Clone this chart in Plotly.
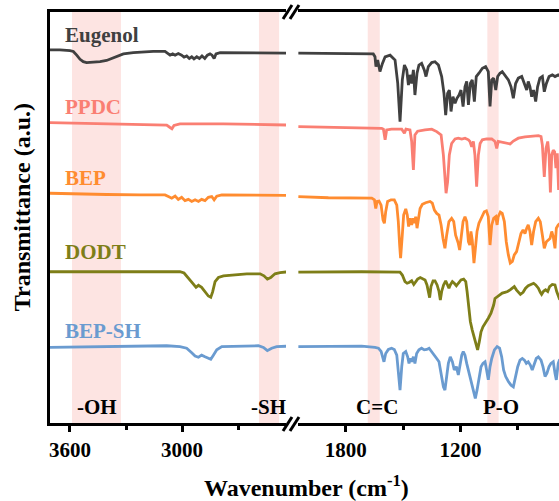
import plotly.graph_objects as go

# ---------------- data (wavenumber in cm-1, transmittance in a.u. incl. vertical offset) -------------
series_names = ["Eugenol", "PPDC", "BEP", "DODT", "BEP-SH"]
series_colors = ["#404040", "#FA7F73", "#FF8C30", "#7E7E18", "#6A9BD0"]

# high-wavenumber window (left panel)
eugenol_hi_wn = [3708, 3654, 3600, 3582, 3564, 3546, 3529, 3511, 3475, 3439, 3404, 3377, 3350, 3314, 3261, 3207, 3154, 3091,
                 3073, 3064, 3050, 3037, 3020, 3002, 2989, 2975, 2961, 2948, 2936, 2921, 2907, 2893, 2878, 2864, 2850,
                 2839, 2828, 2818, 2796, 2725, 2600, 2430]
eugenol_hi_t = [90.8, 90.8, 90.6, 90.4, 89.5, 88.5, 87.9, 87.7, 87.8, 87.9, 88.2, 88.7, 89.3, 89.8, 90.1, 90.3, 90.4, 90.4,
                89.9, 89.5, 89.8, 89.5, 89.9, 89.5, 89.0, 89.3, 88.7, 89.1, 88.6, 89.1, 88.7, 89.3, 88.7, 89.5, 89.8,
                89.5, 88.7, 89.8, 90.1, 90.1, 90.1, 90.0]
ppdc_hi_wn = [3708, 3493, 3225, 3082, 3064, 3054, 3043, 3011, 2778, 2600, 2430]
ppdc_hi_t = [73.1, 72.9, 72.8, 72.5, 71.9, 71.6, 72.4, 72.8, 72.8, 72.6, 72.5]
bep_hi_wn = [3708, 3582, 3404, 3225, 3091, 3073, 3055, 3037, 3020, 3002, 2984, 2966, 2948, 2930, 2912, 2895, 2877, 2859,
             2841, 2828, 2814, 2787, 2600, 2430]
bep_hi_t = [55.9, 55.7, 55.6, 55.5, 55.5, 55.1, 54.7, 55.2, 54.4, 54.9, 54.1, 54.4, 53.9, 54.3, 53.9, 54.4, 54.1, 54.9,
            55.1, 54.3, 55.2, 55.5, 55.4, 55.4]
dodt_hi_wn = [3708, 3404, 3225, 3011, 2989, 2975, 2957, 2939, 2925, 2912, 2895, 2877, 2859, 2846, 2836, 2823, 2805, 2778,
              2725, 2653, 2582, 2561, 2543, 2525, 2502, 2475, 2430]
dodt_hi_t = [36.8, 36.8, 36.9, 36.8, 36.5, 35.8, 34.8, 33.8, 33.0, 33.5, 33.0, 31.9, 30.9, 30.6, 31.9, 34.4, 35.4, 35.8,
             36.0, 36.3, 36.3, 35.8, 35.0, 35.4, 36.3, 36.6, 36.8]
bepsh_hi_wn = [3708, 3404, 3225, 3082, 3011, 2975, 2948, 2930, 2912, 2895, 2877, 2859, 2846, 2832, 2814, 2787, 2725, 2653,
               2591, 2564, 2543, 2520, 2493, 2430]
bepsh_hi_t = [18.4, 18.6, 18.7, 18.8, 18.6, 18.2, 17.1, 16.3, 16.0, 16.5, 16.1, 15.7, 15.5, 16.5, 17.8, 18.6, 18.7, 18.8,
              18.8, 18.4, 17.6, 18.2, 18.6, 18.7]

# fingerprint window (right panel)
eugenol_lo_wn = [2048, 1656, 1647, 1642, 1633, 1621, 1608, 1594, 1568, 1542, 1528, 1516, 1504, 1493, 1481, 1472, 1464, 1455,
                 1446, 1438, 1427, 1417, 1403, 1389, 1380, 1368, 1350, 1333, 1315, 1298, 1286, 1277, 1267, 1258, 1249,
                 1239, 1228, 1218, 1207, 1197, 1186, 1176, 1167, 1158, 1148, 1138, 1127, 1117, 1103, 1085, 1068, 1054,
                 1045, 1036, 1026, 1015, 1005, 993, 981, 967, 949, 935, 923, 911, 897, 879, 865, 853, 845, 836, 827, 817,
                 806, 796, 784, 771, 761, 750, 736, 719, 705, 688, 680]
eugenol_lo_t = [90.0, 89.8, 89.1, 86.7, 88.3, 85.5, 87.5, 89.1, 89.5, 88.3, 82.7, 73.3, 83.5, 87.1, 85.9, 82.2, 84.7, 82.6,
                85.9, 79.8, 85.1, 87.1, 87.5, 85.9, 84.3, 86.7, 87.7, 87.9, 87.1, 84.3, 80.2, 74.9, 80.2, 81.0, 75.8,
                79.4, 77.8, 79.0, 79.8, 81.0, 77.0, 81.8, 83.1, 77.4, 82.6, 83.5, 78.2, 84.3, 85.1, 86.3, 86.7, 85.5,
                77.0, 83.5, 83.9, 81.0, 84.3, 85.1, 85.5, 84.7, 83.5, 81.8, 79.0, 82.6, 83.9, 84.3, 82.6, 81.0, 83.1,
                81.8, 79.4, 81.0, 78.2, 81.8, 83.9, 84.3, 80.6, 82.6, 84.3, 84.7, 84.3, 84.7, 84.5]
ppdc_lo_wn = [2048, 1891, 1717, 1612, 1603, 1594, 1586, 1560, 1507, 1493, 1485, 1464, 1455, 1446, 1438, 1424, 1385, 1350,
              1324, 1315, 1301, 1289, 1281, 1275, 1267, 1258, 1246, 1228, 1211, 1193, 1176, 1158, 1150, 1141, 1132, 1124,
              1115, 1106, 1097, 1085, 1063, 1036, 1019, 1010, 1002, 984, 958, 940, 923, 897, 862, 827, 792, 778, 771,
              761, 752, 743, 736, 729, 722, 714, 707, 700, 693, 686, 680]
ppdc_lo_t = [72.1, 71.9, 71.7, 71.7, 71.5, 68.9, 71.3, 71.5, 71.5, 70.5, 71.5, 71.3, 68.5, 61.6, 70.1, 71.0, 71.3, 71.5,
             70.9, 70.5, 70.1, 65.2, 58.7, 55.9, 58.7, 65.2, 68.0, 69.1, 69.3, 69.1, 69.3, 68.9, 68.5, 67.2, 68.5, 65.2,
             57.5, 65.2, 68.0, 68.9, 69.1, 69.1, 68.5, 66.8, 68.5, 68.3, 68.0, 67.9, 68.6, 69.3, 69.6, 69.8, 69.9, 69.7,
             67.6, 59.9, 66.8, 68.5, 65.2, 56.1, 65.2, 66.4, 66.0, 62.0, 65.6, 56.7, 60.0]
bep_lo_wn = [2048, 1891, 1664, 1650, 1643, 1636, 1626, 1615, 1605, 1598, 1591, 1581, 1563, 1546, 1533, 1525, 1518, 1513,
             1504, 1497, 1486, 1478, 1471, 1464, 1455, 1448, 1441, 1434, 1427, 1420, 1411, 1399, 1382, 1359, 1347, 1336,
             1324, 1312, 1301, 1291, 1281, 1272, 1260, 1246, 1235, 1225, 1218, 1211, 1204, 1197, 1186, 1176, 1167, 1158,
             1151, 1145, 1138, 1129, 1120, 1113, 1103, 1089, 1075, 1064, 1054, 1045, 1036, 1026, 1015, 1008, 1002, 991,
             981, 970, 960, 949, 939, 928, 918, 906, 893, 883, 872, 862, 853, 845, 836, 827, 817, 806, 792, 782, 771,
             761, 750, 740, 731, 722, 714, 705, 698, 688, 680]
bep_lo_t = [55.1, 54.8, 54.7, 54.3, 52.2, 53.9, 54.0, 53.0, 49.4, 48.6, 51.4, 53.9, 54.3, 54.3, 53.0, 49.0, 43.3, 40.1,
            45.8, 50.6, 52.1, 50.6, 47.8, 49.8, 48.2, 49.8, 48.6, 50.2, 47.4, 49.8, 52.2, 53.2, 53.6, 53.9, 53.5, 51.8,
            51.0, 50.6, 48.2, 44.9, 42.5, 45.7, 49.0, 49.8, 49.0, 45.7, 44.9, 43.7, 42.1, 44.9, 49.0, 50.2, 49.0, 44.1,
            43.3, 46.6, 44.5, 38.9, 43.3, 46.6, 48.6, 50.2, 51.4, 51.6, 50.2, 43.3, 48.2, 49.8, 50.2, 48.2, 50.2, 51.3,
            51.0, 49.0, 44.1, 40.9, 38.9, 39.3, 40.9, 41.7, 44.1, 46.1, 47.0, 46.1, 47.4, 48.2, 46.6, 43.3, 46.6, 49.0,
            49.8, 49.0, 45.7, 42.5, 44.1, 44.5, 44.9, 46.6, 45.3, 42.5, 47.4, 48.2, 48.5]
dodt_lo_wn = [2048, 1891, 1717, 1516, 1504, 1490, 1479, 1469, 1455, 1444, 1434, 1424, 1410, 1396, 1385, 1375, 1368, 1361,
              1354, 1343, 1333, 1322, 1312, 1305, 1298, 1288, 1277, 1267, 1260, 1253, 1242, 1232, 1221, 1211, 1197, 1183,
              1172, 1165, 1158, 1148, 1138, 1127, 1118, 1110, 1101, 1092, 1082, 1068, 1054, 1040, 1026, 1019, 1008, 995,
              981, 967, 953, 940, 928, 918, 907, 897, 886, 872, 859, 845, 831, 817, 806, 792, 782, 775, 764, 754, 743,
              733, 719, 705, 696, 688, 680]
dodt_lo_t = [36.7, 36.8, 36.8, 36.7, 36.0, 34.4, 34.0, 34.2, 34.6, 33.7, 34.4, 35.0, 35.4, 35.0, 34.8, 33.6, 32.0, 30.5,
             33.2, 34.6, 34.6, 33.6, 32.0, 29.9, 32.0, 33.6, 34.6, 33.7, 32.8, 33.6, 34.4, 34.0, 33.4, 34.0, 34.8, 35.0,
             34.4, 32.0, 28.7, 24.7, 22.6, 20.6, 18.6, 17.8, 19.8, 22.2, 23.4, 24.3, 25.5, 26.7, 28.7, 30.3, 30.7, 31.2,
             31.6, 31.8, 32.0, 32.4, 32.8, 33.2, 32.4, 31.8, 31.3, 31.8, 32.8, 33.4, 33.7, 34.0, 33.6, 32.8, 31.8, 31.3,
             32.1, 32.4, 32.0, 33.2, 33.7, 33.6, 32.0, 30.7, 30.0]
bepsh_lo_wn = [2048, 1891, 1717, 1647, 1629, 1615, 1607, 1600, 1591, 1577, 1560, 1546, 1533, 1525, 1516, 1507, 1499, 1486,
               1476, 1469, 1462, 1455, 1446, 1438, 1429, 1417, 1403, 1389, 1376, 1364, 1350, 1336, 1324, 1312, 1301,
               1289, 1281, 1272, 1263, 1253, 1242, 1232, 1221, 1211, 1202, 1193, 1185, 1176, 1167, 1158, 1148, 1141,
               1131, 1122, 1113, 1103, 1092, 1082, 1071, 1063, 1054, 1045, 1036, 1022, 1008, 995, 984, 974, 963, 949,
               935, 923, 911, 900, 888, 876, 865, 855, 845, 834, 824, 813, 803, 792, 778, 768, 757, 747, 736, 726, 714,
               705, 698, 688, 680]
bepsh_lo_t = [18.6, 18.7, 18.7, 18.4, 18.2, 17.4, 16.1, 14.9, 16.9, 17.9, 18.2, 17.9, 16.5, 12.9, 8.0, 13.7, 16.9, 17.4,
              16.1, 14.5, 15.7, 14.9, 16.1, 14.5, 16.9, 17.8, 18.2, 17.8, 17.9, 18.2, 17.4, 16.5, 15.7, 14.9, 12.1, 8.8,
              8.0, 11.3, 14.5, 16.1, 14.9, 12.9, 13.7, 11.7, 14.5, 16.5, 17.4, 16.5, 14.5, 12.9, 10.5, 9.7, 7.6, 6.0,
              8.0, 11.3, 13.7, 14.5, 14.9, 12.9, 10.5, 13.7, 15.7, 17.8, 18.6, 18.2, 16.1, 12.9, 11.3, 10.1, 9.2, 8.8,
              11.3, 13.7, 15.3, 15.7, 15.3, 14.5, 14.9, 14.1, 12.9, 14.5, 15.7, 16.1, 15.3, 13.7, 11.3, 12.1, 13.7,
              14.5, 14.9, 12.1, 10.5, 14.5, 15.5]

# highlighted bands (cm-1)
band_labels = ["-OH", "-SH", "C=C", "P-O"]
band_lo = [3327, 2480, 1622, 1000]
band_hi = [3589, 2588, 1685, 1059]
band_panel = ["x", "x", "x2", "x2"]

# axis windows and ticks
hi_range = [3707, 2443]
lo_range = [2050, 684]
tick_labels_hi = [3600, 3000]
tick_labels_lo = [1800, 1200]

# ---------------- figure ---------------------------------------------------------------------------
FONT = "Liberation Serif"
hi_data = [(eugenol_hi_wn, eugenol_hi_t), (ppdc_hi_wn, ppdc_hi_t), (bep_hi_wn, bep_hi_t),
           (dodt_hi_wn, dodt_hi_t), (bepsh_hi_wn, bepsh_hi_t)]
lo_data = [(eugenol_lo_wn, eugenol_lo_t), (ppdc_lo_wn, ppdc_lo_t), (bep_lo_wn, bep_lo_t),
           (dodt_lo_wn, dodt_lo_t), (bepsh_lo_wn, bepsh_lo_t)]

fig = go.Figure()
for name, color, (hx, hy), (lx, ly) in zip(series_names, series_colors, hi_data, lo_data):
    fig.add_trace(go.Scatter(x=hx, y=hy, mode="lines", name=name, line=dict(color=color, width=2.8),
                             xaxis="x", yaxis="y", showlegend=False, hoverinfo="skip"))
    fig.add_trace(go.Scatter(x=lx, y=ly, mode="lines", name=name, line=dict(color=color, width=2.8),
                             xaxis="x2", yaxis="y", showlegend=False, hoverinfo="skip"))

shapes = []
for lo, hi, ax in zip(band_lo, band_hi, band_panel):
    shapes.append(dict(type="rect", xref=ax, yref="paper", x0=lo, x1=hi, y0=0, y1=1,
                       fillcolor="#FDE4E2", line=dict(width=0), layer="below"))
# axis-break marks
for (x0, y0, x1, y1) in [(0.4578, -0.0195, 0.4754, 0.0146), (0.4715, -0.0195, 0.4892, 0.0146),
                         (0.4578, 0.983, 0.4754, 1.017), (0.4715, 0.983, 0.4892, 1.017)]:
    shapes.append(dict(type="line", xref="paper", yref="paper", x0=x0, y0=y0, x1=x1, y1=y1,
                       line=dict(color="black", width=3)))

annotations = []
name_y = [0.944, 0.768, 0.597, 0.416, 0.225]
for name, color, yy in zip(series_names, series_colors, name_y):
    annotations.append(dict(text=name, xref="paper", yref="paper", x=0.0255, y=yy, xanchor="left",
                            yanchor="middle", showarrow=False,
                            font=dict(family=FONT, size=21, color=color, weight="bold")))
band_label_x = [0.092, 0.430, 0.643, 0.887]
for lab, xx in zip(band_labels, band_label_x):
    annotations.append(dict(text=lab, xref="paper", yref="paper", x=xx, y=0.040, xanchor="center",
                            yanchor="middle", showarrow=False,
                            font=dict(family=FONT, size=21, color="black", weight="bold")))
annotations.append(dict(text="Wavenumber (cm<sup>-1</sup>)", xref="paper", yref="paper", x=0.503, y=-0.153,
                        xanchor="center", yanchor="middle", showarrow=False,
                        font=dict(family=FONT, size=24, color="black", weight="bold")))
annotations.append(dict(text="Transmittance (a.u.)", xref="paper", yref="paper", x=-0.055, y=0.525,
                        xanchor="center", yanchor="middle", showarrow=False, textangle=-90,
                        font=dict(family=FONT, size=24, color="black", weight="bold")))

xcommon = dict(showline=True, linewidth=3, linecolor="black", mirror=True, ticks="outside", ticklen=6,
               tickwidth=2.5, tickcolor="black", showgrid=False, zeroline=False, automargin=False,
               tickfont=dict(family=FONT, size=21, color="black", weight="bold"),
               minor=dict(ticks="outside", ticklen=4, tickwidth=2.5, tickcolor="black", dtick=300, tick0=0,
                          showgrid=False))

fig.update_layout(
    template="none",
    width=559, height=501,
    margin=dict(l=50, r=0, t=12, b=78, autoexpand=False),
    paper_bgcolor="white", plot_bgcolor="white",
    xaxis=dict(domain=[0, 0.4637], range=hi_range, tickmode="array", tickvals=tick_labels_hi,
               ticktext=[str(v) for v in tick_labels_hi], anchor="y", **xcommon),
    xaxis2=dict(domain=[0.4872, 1], range=lo_range, tickmode="array", tickvals=tick_labels_lo,
                ticktext=[str(v) for v in tick_labels_lo], anchor="y", **xcommon),
    yaxis=dict(range=[0, 100], showline=True, linewidth=3, linecolor="black", showticklabels=False,
               ticks="", showgrid=False, zeroline=False, anchor="x", automargin=False),
    shapes=shapes,
    annotations=annotations,
)

fig.write_html("out.html", config={"displayModeBar": False},
               post_script="document.body.style.margin='0';document.body.style.overflow='hidden';")
